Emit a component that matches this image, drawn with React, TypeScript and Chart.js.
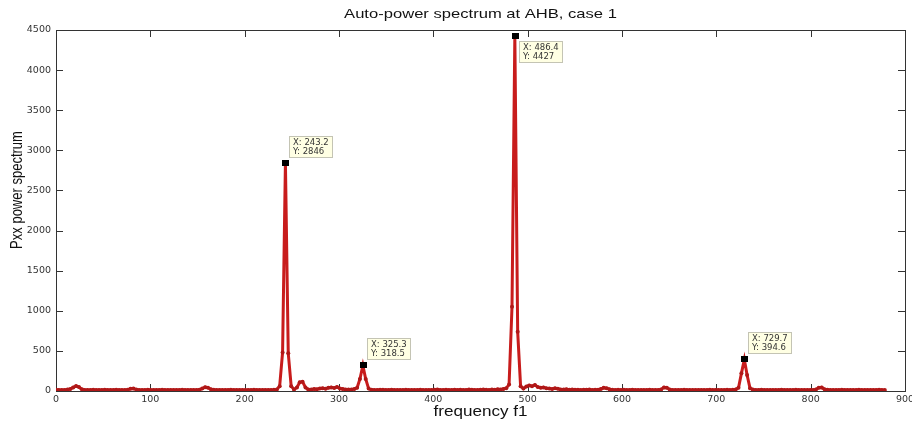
import React, { useEffect, useRef } from 'react';
import { Chart, registerables } from 'chart.js';

Chart.register(...registerables);

const TITLE = 'Auto-power spectrum at AHB, case 1';
const X_TITLE = 'frequency f1';
const Y_TITLE = 'Pxx power spectrum';

const FREQ = [
  0, 3.0, 6.1, 9.1, 12.2, 15.2, 18.2, 21.3, 24.3, 27.4,
  30.4, 33.4, 36.5, 39.5, 42.6, 45.6, 48.6, 51.7, 54.7, 57.8,
  60.8, 63.8, 66.9, 69.9, 73.0, 76.0, 79.0, 82.1, 85.1, 88.2,
  91.2, 94.2, 97.3, 100.3, 103.4, 106.4, 109.4, 112.5, 115.5, 118.6,
  121.6, 124.6, 127.7, 130.7, 133.8, 136.8, 139.8, 142.9, 145.9, 149.0,
  152.0, 155.0, 158.1, 161.1, 164.2, 167.2, 170.2, 173.3, 176.3, 179.4,
  182.4, 185.4, 188.5, 191.5, 194.6, 197.6, 200.6, 203.7, 206.7, 209.8,
  212.8, 215.8, 218.9, 221.9, 225.0, 228.0, 231.0, 234.1, 237.1, 240.2,
  243.2, 246.2, 249.3, 252.3, 255.4, 258.4, 261.4, 264.5, 267.5, 270.6,
  273.6, 276.6, 279.7, 282.7, 285.8, 288.8, 291.8, 294.9, 297.9, 301.0,
  304.0, 307.0, 310.1, 313.1, 316.2, 319.2, 322.2, 325.3, 328.3, 331.4,
  334.4, 337.4, 340.5, 343.5, 346.6, 349.6, 352.6, 355.7, 358.7, 361.8,
  364.8, 367.8, 370.9, 373.9, 377.0, 380.0, 383.0, 386.1, 389.1, 392.2,
  395.2, 398.2, 401.3, 404.3, 407.4, 410.4, 413.4, 416.5, 419.5, 422.6,
  425.6, 428.6, 431.7, 434.7, 437.8, 440.8, 443.8, 446.9, 449.9, 453.0,
  456.0, 459.0, 462.1, 465.1, 468.2, 471.2, 474.2, 477.3, 480.3, 483.4,
  486.4, 489.4, 492.5, 495.5, 498.6, 501.6, 504.6, 507.7, 510.7, 513.8,
  516.8, 519.8, 522.9, 525.9, 529.0, 532.0, 535.0, 538.1, 541.1, 544.2,
  547.2, 550.2, 553.3, 556.3, 559.4, 562.4, 565.4, 568.5, 571.5, 574.6,
  577.6, 580.6, 583.7, 586.7, 589.8, 592.8, 595.8, 598.9, 601.9, 605.0,
  608.0, 611.0, 614.1, 617.1, 620.2, 623.2, 626.2, 629.3, 632.3, 635.4,
  638.4, 641.4, 644.5, 647.5, 650.6, 653.6, 656.6, 659.7, 662.7, 665.8,
  668.8, 671.8, 674.9, 677.9, 681.0, 684.0, 687.0, 690.1, 693.1, 696.2,
  699.2, 702.2, 705.3, 708.3, 711.4, 714.4, 717.4, 720.5, 723.5, 726.6,
  729.7, 732.6, 735.7, 738.7, 741.8, 744.8, 747.8, 750.9, 753.9, 757.0,
  760.0, 763.0, 766.1, 769.1, 772.2, 775.2, 778.2, 781.3, 784.3, 787.4,
  790.4, 793.4, 796.5, 799.5, 802.6, 805.6, 808.6, 811.7, 814.7, 817.8,
  820.8, 823.8, 826.9, 829.9, 833.0, 836.0, 839.0, 842.1, 845.1, 848.2,
  851.2, 854.2, 857.3, 860.3, 863.4, 866.4, 869.4, 872.5, 875.5, 878.6,
];

const PXX = [
  15, 12, 14, 13, 18, 25,
  45, 62, 50, 22, 14,
  13, 12, 15, 14, 12, 13, 16, 14, 12, 13, 15, 14, 13, 12,
  16, 28, 32, 18,
  14, 13, 12, 15, 13, 14, 12, 13, 15, 14, 12, 13, 14, 12, 13, 15, 14, 13, 12, 14, 13,
  16, 30, 48, 42, 22, 15,
  14, 13, 12, 14, 13, 15, 12, 13, 14, 13, 12, 14, 13, 15, 13, 12, 14, 13, 12, 14,
  15, 20, 60, 480, 2846, 470, 60, 20, 45, 110, 115, 45, 18,
  20, 25, 22, 30, 35, 28, 40, 45, 38, 50, 30,
  25, 20, 18, 20, 25, 40,
  150, 318.5, 150, 30,
  15, 14, 13, 16, 15, 14, 13, 15, 14, 12, 14, 13, 15, 14, 13, 12, 14, 15, 13, 14, 13, 12,
  15, 18, 14, 13, 16, 14, 13, 15, 14, 16, 13, 14, 18, 16, 14, 13, 15, 20, 16, 14, 18, 15, 22, 20, 25, 35,
  80, 1050, 4427, 740, 60, 30,
  55, 70, 60, 75, 50, 40, 45, 35, 30, 25, 35, 28,
  20, 18, 22, 16, 18, 15, 17, 14, 16, 15, 18, 14, 16, 15,
  25, 40, 35, 22, 16,
  14, 16, 13, 15, 14, 13, 15, 14, 13, 12, 14, 13, 15, 14, 13, 12,
  18, 45, 40, 18,
  13, 14, 12, 13, 15, 14, 13, 12, 14, 13, 12, 14, 13, 15, 14, 13, 12, 14, 13, 15, 14, 16,
  20, 40, 220, 394.6, 200, 35, 18,
  14, 13, 15, 12, 14, 13, 12, 14, 13, 15, 14, 13, 12, 14, 15, 13, 14, 12, 13, 14, 13,
  20, 40, 45, 22, 15,
  13, 14, 12, 13, 15, 14, 13, 12, 14, 13, 15, 12, 14, 13, 12, 14, 13, 15, 14, 13,
];

// data tips (MATLAB-style datacursors)
const TIP_X = [243.2, 325.3, 486.4, 729.7];
const TIP_Y = [2846, 318.5, 4427, 394.6];
const TIP_Y_TEXT = ['2846', '318.5', '4427', '394.6'];
const TIP_BELOW = [false, false, true, false];

const X_MIN = 0;
const X_MAX = 900;
const X_STEP = 100;
const Y_MIN = 0;
const Y_MAX = 4500;
const Y_STEP = 500;

const LINE_COLOR = '#c81c1c';
const AXIS_COLOR = '#333333';
const STRETCH = 1.22;

function stretchedText(
  ctx: CanvasRenderingContext2D,
  text: string,
  x: number,
  y: number,
  font: string,
  align: CanvasTextAlign,
  rotated = false
) {
  ctx.save();
  ctx.font = font;
  ctx.fillStyle = '#111111';
  ctx.translate(x, y);
  if (rotated) {
    ctx.rotate(-Math.PI / 2);
    ctx.scale(1, STRETCH);
  } else {
    ctx.scale(STRETCH, 1);
  }
  ctx.textAlign = align;
  ctx.textBaseline = 'middle';
  ctx.fillText(text, 0, 0);
  ctx.restore();
}

const framePlugin = {
  id: 'matlabFrame',
  beforeDatasetsDraw(chart: any) {
    const { ctx, chartArea: a, scales } = chart;
    const tl = 7;
    ctx.save();
    ctx.strokeStyle = AXIS_COLOR;
    ctx.lineWidth = 1;
    ctx.strokeRect(Math.round(a.left) + 0.5, Math.round(a.top) + 0.5, Math.round(a.right - a.left), Math.round(a.bottom - a.top));
    ctx.beginPath();
    scales.x.ticks.forEach((t: any) => {
      const px = Math.round(scales.x.getPixelForValue(t.value)) + 0.5;
      ctx.moveTo(px, a.bottom);
      ctx.lineTo(px, a.bottom - tl);
      ctx.moveTo(px, a.top);
      ctx.lineTo(px, a.top + tl);
    });
    scales.y.ticks.forEach((t: any) => {
      const py = Math.round(scales.y.getPixelForValue(t.value)) + 0.5;
      ctx.moveTo(a.left, py);
      ctx.lineTo(a.left + tl, py);
      ctx.moveTo(a.right, py);
      ctx.lineTo(a.right - tl, py);
    });
    ctx.stroke();
    ctx.restore();
  },
  afterDraw(chart: any) {
    const { ctx, chartArea: a, scales } = chart;
    const cx = (a.left + a.right) / 2;
    stretchedText(ctx, TITLE, cx, 14, '13.6px "Liberation Sans", Arial, sans-serif', 'center');
    stretchedText(ctx, X_TITLE, cx, 412, '14px "Liberation Sans", Arial, sans-serif', 'center');
    stretchedText(ctx, Y_TITLE, 18, 190, '13px "Liberation Sans", Arial, sans-serif', 'center', true);

    // data tips
    ctx.save();
    TIP_X.forEach((xv, i) => {
      const px = scales.x.getPixelForValue(xv);
      const py = scales.y.getPixelForValue(TIP_Y[i]);
      ctx.fillStyle = '#000000';
      ctx.fillRect(Math.round(px) - 3, Math.round(py) - 3, 7, 6);
      const l1 = 'X: ' + xv.toFixed(1);
      const l2 = 'Y: ' + TIP_Y_TEXT[i];
      ctx.font = '8.5px "DejaVu Sans", sans-serif';
      const w = Math.ceil(Math.max(ctx.measureText(l1).width, ctx.measureText(l2).width)) + 8;
      const h = 22;
      const bx = Math.round(px) + 4;
      const by = TIP_BELOW[i] ? Math.round(py) + 5 : Math.round(py) - 5 - h;
      ctx.fillStyle = '#ffffe3';
      ctx.fillRect(bx, by, w, h);
      ctx.strokeStyle = '#c4c4b4';
      ctx.lineWidth = 1;
      ctx.strokeRect(bx + 0.5, by + 0.5, w - 1, h - 1);
      ctx.fillStyle = '#333333';
      ctx.textAlign = 'left';
      ctx.textBaseline = 'middle';
      ctx.fillText(l1, bx + 4, by + 7);
      ctx.fillText(l2, bx + 4, by + 16);
    });
    ctx.restore();
  },
};

export default function App() {
  const canvasRef = useRef<HTMLCanvasElement | null>(null);

  useEffect(() => {
    if (!canvasRef.current) return;
    const points = FREQ.map((f, i) => ({ x: f, y: PXX[i] }));
    const tickFont = { family: '"DejaVu Sans", sans-serif', size: 9.5 };
    const plain = (v: any) => String(v);
    const chart = new Chart(canvasRef.current, {
      type: 'line',
      data: {
        datasets: [
          {
            data: points,
            borderColor: LINE_COLOR,
            backgroundColor: LINE_COLOR,
            borderWidth: 3,
            pointRadius: 2,
            pointBorderWidth: 0,
            pointBackgroundColor: '#b01818',
            pointHoverRadius: 2,
            tension: 0,
            fill: false,
          },
        ],
      },
      options: {
        animation: false,
        responsive: true,
        maintainAspectRatio: false,
        events: [],
        layout: { padding: { top: 30, right: 7, left: 0, bottom: 0 } },
        plugins: {
          legend: { display: false },
          tooltip: { enabled: false },
          title: { display: false },
        },
        scales: {
          x: {
            type: 'linear',
            min: X_MIN,
            max: X_MAX,
            ticks: {
              stepSize: X_STEP,
              font: tickFont,
              color: AXIS_COLOR,
              padding: 3,
              maxRotation: 0,
              autoSkip: false,
              callback: plain,
            },
            grid: { display: false, drawTicks: false },
            border: { display: false },
            afterFit: (s: any) => {
              s.height = 36;
              s.paddingLeft = 0;
              s.paddingRight = 0;
            },
          },
          y: {
            type: 'linear',
            min: Y_MIN,
            max: Y_MAX,
            ticks: {
              stepSize: Y_STEP,
              font: tickFont,
              color: AXIS_COLOR,
              padding: 5,
              callback: plain,
            },
            grid: { display: false, drawTicks: false },
            border: { display: false },
            afterFit: (s: any) => {
              s.width = 56;
              s.paddingTop = 0;
              s.paddingBottom = 0;
            },
          },
        },
      },
      plugins: [framePlugin],
    });
    return () => chart.destroy();
  }, []);

  return (
    <div style={{ position: 'absolute', left: 0, top: 0, width: 912, height: 427, background: '#ffffff' }}>
      <canvas ref={canvasRef} />
    </div>
  );
}
